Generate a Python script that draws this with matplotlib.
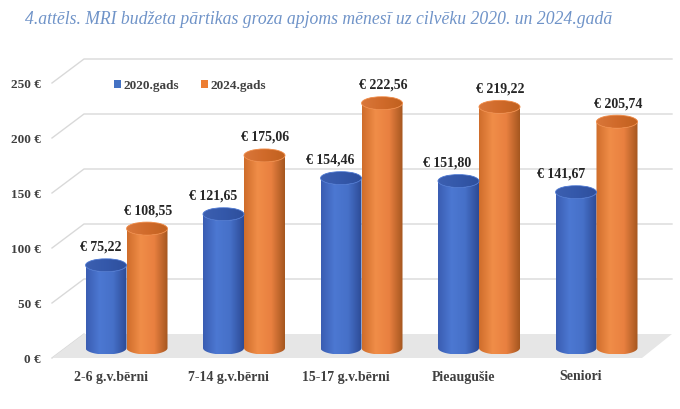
import numpy as np
import matplotlib
matplotlib.use("Agg")
from matplotlib import pyplot as plt
from matplotlib.patches import Polygon, Ellipse, Patch
from matplotlib.colors import LinearSegmentedColormap

# Data
categories = ['2-6 g.v.bērni', '7-14 g.v.bērni', '15-17 g.v.bērni', 'Pieaugušie', 'Seniori']
values_2020 = [75.22, 121.65, 154.46, 151.80, 141.67]
values_2024 = [108.55, 175.06, 222.56, 219.22, 205.74]
series_names = ['2020.gads', '2024.gads']
y_ticks = [0, 50, 100, 150, 200, 250]
title = '4.attēls. MRI budžeta pārtikas groza apjoms mēnesī uz cilvēku 2020. un 2024.gadā'

def euro(v):
    return '€ ' + ('%.2f' % v).replace('.', ',')

# Geometry (x in category units, y in value units)
px_x = 117.5   # pixels per category
px_y = 1.1     # pixels per euro
W, H = 680, 409
x0_px, y0_px = 111, 358  # pixel of category 0 / value 0 (front)

def X(p):
    return (p - x0_px) / px_x

def Y(p):
    return (y0_px - p) / px_y

depth_dx = 32 / px_x
depth_dy = 24 / px_y
front_left = X(52)
front_right = X(642)
back_right = X(672)
bar_w = 41 / px_x
bar_off = [-5 / px_x, 36 / px_x]
bar_base = Y(348)
ell_b = 6.5 / px_y

font = 'Liberation Serif'
fig = plt.figure(figsize=(W / 100, H / 100), dpi=100)
ax = fig.add_axes([0, 0, 1, 1])
ax.set_axis_off()

# floor
floor = Polygon([(front_left, 0), (front_right, 0),
                 (back_right, depth_dy), (front_left + depth_dx, depth_dy)],
                closed=True, facecolor='#e6e6e6', edgecolor='none', zorder=1)
ax.add_patch(floor)

# gridlines + tick labels
for t in y_ticks:
    xs = [front_left, front_left + depth_dx, back_right]
    ys = [t, t + depth_dy, t + depth_dy]
    if t == 0:
        xs = xs[:2]
        ys = ys[:2]
    ax.plot(xs, ys, color='#d9d9d9', lw=1.0, zorder=0.5)
    ax.text(X(41), t - 1.8, '%d €' % t, ha='right', va='center',
            fontsize=9.5, fontweight='bold', family=font, color='#404040')

cmaps = [
    LinearSegmentedColormap.from_list('b', ['#3a5db2', '#4c78d2', '#4670c8', '#2c4a95']),
    LinearSegmentedColormap.from_list('o', ['#cf6d2b', '#f08d48', '#e98040', '#a5561f']),
]
top_cmaps = [
    LinearSegmentedColormap.from_list('bt', ['#3c5fb0', '#3458aa', '#2e4f9c']),
    LinearSegmentedColormap.from_list('ot', ['#d9773a', '#d06a2a', '#c0611f']),
]
grad = np.linspace(0, 1, 200).reshape(1, -1)


def cylinder(cx, v, k):
    a = bar_w / 2
    top = bar_base + v
    th = np.linspace(np.pi, 2 * np.pi, 60)
    bottom = np.column_stack([cx + a * np.cos(th), bar_base + ell_b * np.sin(th)])
    upper = np.column_stack([cx + a * np.cos(th[::-1]), top + ell_b * np.sin(th[::-1])])
    body = Polygon(np.vstack([bottom, upper]), closed=True, facecolor='none',
                   edgecolor='none', zorder=3)
    ax.add_patch(body)
    im = ax.imshow(grad, cmap=cmaps[k], aspect='auto', zorder=3,
                   extent=[cx - a, cx + a, bar_base - ell_b, top + ell_b])
    im.set_clip_path(body)
    cap = Ellipse((cx, top), 2 * a, 2 * ell_b, facecolor='none', edgecolor='none', zorder=4)
    ax.add_patch(cap)
    im2 = ax.imshow(grad, cmap=top_cmaps[k], aspect='auto', zorder=4,
                    extent=[cx - a, cx + a, top - ell_b, top + ell_b])
    im2.set_clip_path(cap)
    rim = Ellipse((cx, top), 2 * a, 2 * ell_b, facecolor='none',
                  edgecolor=cmaps[k](0.4), lw=0.6, zorder=4.5)
    ax.add_patch(rim)


label_shift = [-5, -10, -11, -11, -15]
for i in range(len(categories)):
    for k, vals in enumerate([values_2020, values_2024]):
        cx = i + bar_off[k]
        cylinder(cx, vals[i], k)
        lx = cx + (label_shift[i] / px_x if k == 0 else 1 / px_x)
        ax.text(lx, bar_base + vals[i] + 18 / px_y, euro(vals[i]), ha='center', va='center',
                fontsize=10, fontweight='bold', family=font, color='#262626', zorder=6)
    ax.text(i, Y(377), categories[i], ha='center', va='center', fontsize=10,
            fontweight='bold', family=font, color='#404040')

ax.set_xlim(X(0), X(W))
ax.set_ylim(Y(H), Y(0))

# legend
handles = [Patch(facecolor='#4472c4'), Patch(facecolor='#ed7d31')]
leg = fig.legend(handles, series_names, loc='center left',
                 bbox_to_anchor=(102 / W, 1 - 86 / H), ncol=2, frameon=False,
                 handlelength=0.55, handleheight=0.55, handletextpad=0.2,
                 columnspacing=1.6, prop={'family': font, 'weight': 'bold', 'size': 9.5})
for t in leg.get_texts():
    t.set_color('#404040')

fig.text(25 / W, 1 - 19 / H, title, ha='left', va='center', fontsize=12.7,
         style='italic', family=font, color='#6f93c8')

fig.savefig('out.png', dpi=100)
